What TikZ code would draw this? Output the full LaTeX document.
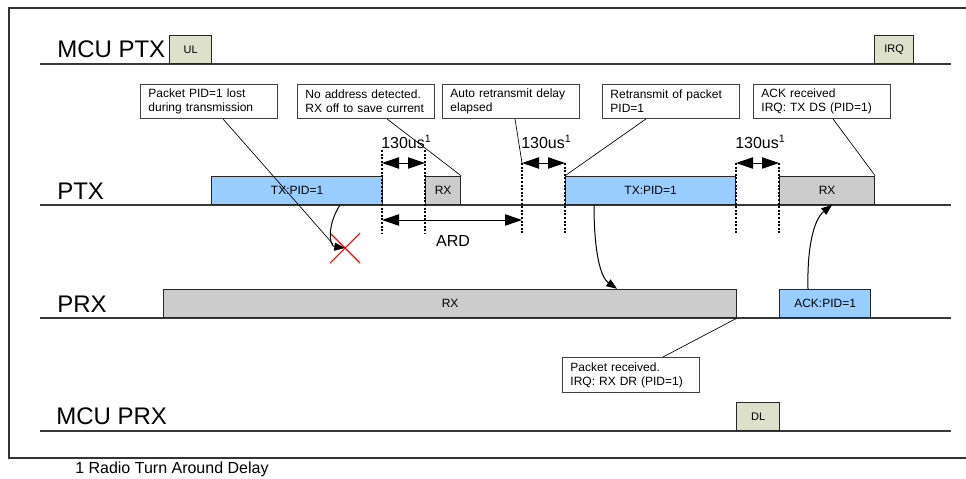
\documentclass[tikz,border=0pt]{standalone}
\usepackage{fontspec}
\setmainfont{Liberation Sans}
\usetikzlibrary{arrows.meta,calc}
\definecolor{txblue}{HTML}{99CCFF}
\definecolor{rxgray}{HTML}{CCCCCC}
\definecolor{mcukhaki}{HTML}{DDE0CB}
\begin{document}
\begin{tikzpicture}[x=0.75pt,y=-0.75pt,
  lane/.style={draw=black!78, line width=1.1pt},
  lbl/.style={anchor=base west, inner sep=0pt, font=\fontsize{18}{20}\selectfont},
  blk/.style={draw=black!85, line width=0.9pt, inner sep=0pt, anchor=south west,
    minimum height=21pt, font=\fontsize{9}{10}\selectfont},
  mcublk/.style={blk, fill=mcukhaki, font=\fontsize{8.25}{9}\selectfont},
  callout/.style={draw=black!75, line width=0.7pt, fill=white, anchor=north west,
    text width=90.75pt, inner xsep=6pt, inner ysep=0pt, minimum height=25.5pt,
    align=left, font=\fontsize{9}{10.5}\selectfont},
  guide/.style={line width=1.5pt, dash pattern=on 1.5pt off 1.2pt},
  dimarrow/.style={line width=0.75pt, {Triangle[length=12.75pt,width=8.5pt]}-{Triangle[length=12.75pt,width=8.5pt]}},
  curv/.style={line width=0.75pt, -{Triangle[length=8pt,width=6pt]}},
  callline/.style={line width=0.5pt},
  dimlbl/.style={anchor=base west, inner sep=0pt, font=\fontsize{12}{14}\selectfont}
]
\useasboundingbox (0,0) rectangle (966,478);
\clip (0,0) rectangle (966,478);
% frame
\draw[line width=1.1pt, draw=black!80] (9,8) rectangle (990,458);
% lanes
\draw[lane] (40,64) -- (951,64);
\draw[lane] (40,205) -- (951,205);
\draw[lane] (40,318) -- (951,318);
\draw[lane] (40,431) -- (951,431);
% lane labels
\node[lbl] (lmcuptx) at (57,58) {MCU PTX};
\node[lbl] (lptx) at (57,199) {PTX};
\node[lbl] (lprx) at (57,312) {PRX};
\node[lbl] (lmcuprx) at (56,424) {MCU PRX};
% MCU blocks
\node[mcublk, minimum width=31.5pt] (ul) at (169,64) {UL};
\node[mcublk, minimum width=29.25pt] (irq) at (874,64) {IRQ};
\node[mcublk, minimum width=32.25pt] (dl) at (736,431) {DL};
% PTX blocks
\node[blk, fill=txblue, minimum width=128.25pt] (tx1) at (211,205) {TX:PID=1};
\node[blk, fill=rxgray, minimum width=26.25pt] (rx1) at (425,205) {RX};
\node[blk, fill=txblue, minimum width=127.5pt] (tx2) at (565,205) {TX:PID=1};
\node[blk, fill=rxgray, minimum width=71.25pt] (rx2) at (779,205) {RX};
% PRX blocks
\node[blk, fill=rxgray, minimum width=429.75pt] (prxrx) at (163,318) {RX};
\node[blk, fill=txblue, minimum width=68.25pt] (ack) at (779,318) {ACK:PID=1};
% guides
\foreach \gx/\gt in {382/150,425/150,522/163,565/163,736/163,779/163}
  \draw[guide] (\gx,\gt) -- (\gx,234);
% dimension coordinates
\coordinate (d1l) at (382,163); \coordinate (d1r) at (425,163);
\coordinate (d2l) at (522,163); \coordinate (d2r) at (565,163);
\coordinate (d3l) at (736,163); \coordinate (d3r) at (779,163);
\coordinate (ardl) at (382,220); \coordinate (ardr) at (522,220);
\draw[dimarrow] (d1l) -- (d1r);
\draw[dimarrow] (d2l) -- (d2r);
\draw[dimarrow] (d3l) -- (d3r);
\draw[dimarrow] (ardl) -- (ardr);
\node[dimlbl] (t1) at (381,148) {130us\textsuperscript{1}};
\node[dimlbl] (t2) at (521,148) {130us\textsuperscript{1}};
\node[dimlbl] (t3) at (735,148) {130us\textsuperscript{1}};
\node[anchor=base, inner sep=0pt, font=\fontsize{12}{14}\selectfont] (ard) at (453,246) {ARD};
% callouts
\node[callout] (c1) at (140,84) {Packet PID=1 lost\\during transmission};
\node[callout] (c2) at (297,84) {No address detected.\\RX off to save current};
\node[callout] (c3) at (442,84) {Auto retransmit delay\\elapsed};
\node[callout] (c4) at (602,84) {Retransmit of packet\\PID=1};
\node[callout] (c5) at (753,84) {ACK received\\IRQ: TX DS (PID=1)};
\node[callout, minimum height=26.25pt] (c6) at (562,357) {Packet received.\\IRQ: RX DR (PID=1)};
% lost packet
\coordinate (lost) at (345,248);
\coordinate (lostb) at (333,244);
\draw[red, line width=0.8pt] ($(lost)+(-15,-15)$) -- ($(lost)+(15,15)$)
  ($(lost)+(15,-15)$) -- ($(lost)+(-15,15)$);
\draw[curv] ($(tx1.south west)+(129,0)$) .. controls (327,225) and (329,246) .. (lost);
% callout lines
\draw[callline] ($(c1.south west)+(83,0)$) -- (lostb);
\draw[callline] ($(c2.south west)+(90,0)$) -- (rx1.north east);
\draw[callline] ($(c3.south west)+(73,0)$) -- (d2l);
\draw[callline] ($(c4.south west)+(44,0)$) -- (tx2.north west);
\draw[callline] ($(c5.south west)+(80,0)$) -- (rx2.north east);
\draw[callline] ($(c6.north west)+(101,0)$) -- (prxrx.south east);
% transfer arrows
\draw[curv] ($(tx2.south west)+(29,0)$) .. controls (594,250) and (600,277) .. ($(prxrx.north west)+(454,0)$);
\draw[curv] ($(ack.north west)+(29,0)$) .. controls (807,250) and (813,220) .. ($(rx2.south west)+(53,0)$);
% footnote
\node[anchor=base west, inner sep=0pt, font=\fontsize{12}{14}\selectfont] (fn) at (75,473.5) {1 Radio Turn Around Delay};
\end{tikzpicture}
\end{document}
